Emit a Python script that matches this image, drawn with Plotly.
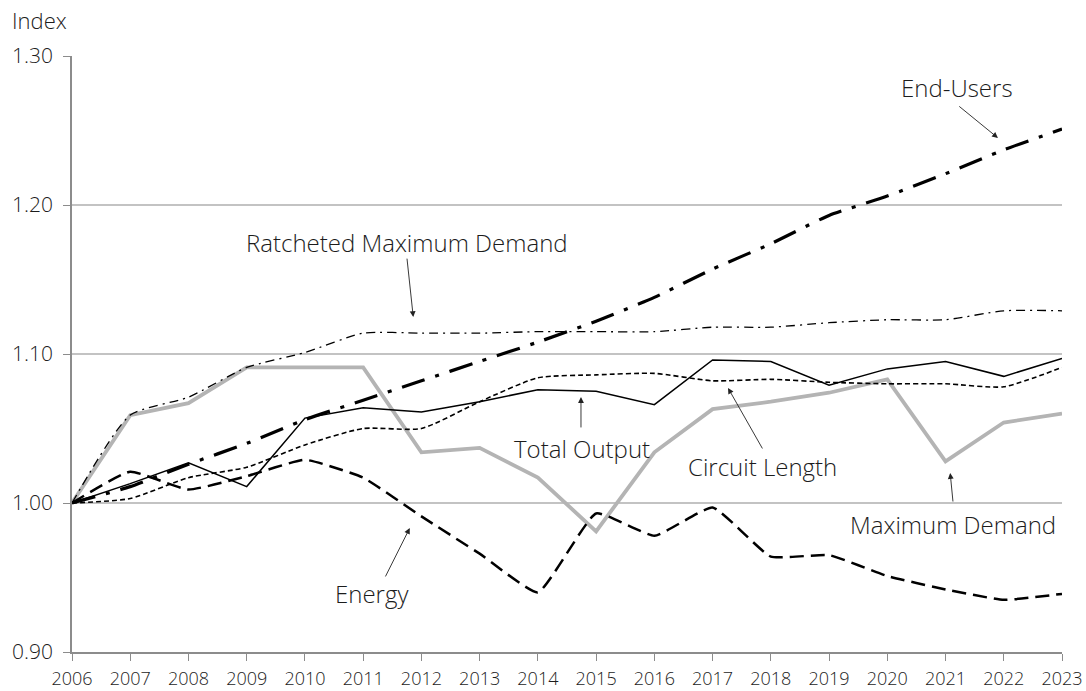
import plotly.graph_objects as go

years = list(range(2006, 2024))

end_users = [1.000, 1.011, 1.026, 1.040, 1.056, 1.069, 1.082, 1.095, 1.108, 1.122, 1.138, 1.157, 1.174, 1.193, 1.206, 1.221, 1.237, 1.251]
ratcheted_md = [1.000, 1.059, 1.071, 1.091, 1.101, 1.114, 1.114, 1.114, 1.115, 1.115, 1.115, 1.118, 1.118, 1.121, 1.123, 1.123, 1.129, 1.129]
maximum_demand = [1.000, 1.059, 1.067, 1.091, 1.091, 1.091, 1.034, 1.037, 1.017, 0.981, 1.034, 1.063, 1.068, 1.074, 1.083, 1.028, 1.054, 1.060]
total_output = [1.000, 1.013, 1.027, 1.011, 1.057, 1.064, 1.061, 1.068, 1.076, 1.075, 1.066, 1.096, 1.095, 1.079, 1.090, 1.095, 1.085, 1.097]
circuit_length = [1.000, 1.003, 1.017, 1.024, 1.039, 1.050, 1.050, 1.068, 1.084, 1.086, 1.087, 1.082, 1.083, 1.081, 1.080, 1.080, 1.078, 1.091]
energy = [1.000, 1.021, 1.009, 1.018, 1.029, 1.017, 0.991, 0.966, 0.940, 0.993, 0.978, 0.997, 0.964, 0.965, 0.951, 0.942, 0.935, 0.939]

y_ticks = [0.90, 1.00, 1.10, 1.20, 1.30]

FONT = "Open Sans"
TXT = "#1c1c1c"

fig = go.Figure()

fig.add_trace(go.Scatter(x=years, y=maximum_demand, mode="lines", name="Maximum Demand",
                         line=dict(color="#b4b4b4", width=3.8)))
fig.add_trace(go.Scatter(x=years, y=ratcheted_md, mode="lines", name="Ratcheted Maximum Demand",
                         line=dict(color="black", width=1.3, dash="9px,5px,2px,5px", shape="spline", smoothing=0.6)))
fig.add_trace(go.Scatter(x=years, y=end_users, mode="lines", name="End-Users",
                         line=dict(color="black", width=3.2, dash="24px,11px,4px,11px", shape="spline", smoothing=0.5)))
fig.add_trace(go.Scatter(x=years, y=circuit_length, mode="lines", name="Circuit Length",
                         line=dict(color="black", width=1.6, dash="5px,3px", shape="spline", smoothing=0.6)))
fig.add_trace(go.Scatter(x=years, y=total_output, mode="lines", name="Total Output",
                         line=dict(color="black", width=1.5)))
fig.add_trace(go.Scatter(x=years, y=energy, mode="lines", name="Energy",
                         line=dict(color="black", width=2.5, dash="14px,7px", shape="spline", smoothing=0.4)))

labels = [
    # text, text x, text y, head x, head y, tail x, tail y
    ("End-Users", 2021.20, 1.279, 2021.90, 1.245, 2021.21, 1.267),
    ("Ratcheted Maximum Demand", 2011.75, 1.1745, 2011.86, 1.1248, 2011.75, 1.165),
    ("Total Output", 2014.76, 1.0369, 2014.74, 1.0711, 2014.74, 1.0497),
    ("Circuit Length", 2017.85, 1.0242, 2017.265, 1.0772, 2017.87, 1.0356),
    ("Maximum Demand", 2021.13, 0.9859, 2021.08, 1.0201, 2021.13, 1.000),
    ("Energy", 2011.15, 0.9396, 2011.80, 0.9832, 2011.37, 0.9497),
]
for t, tx, ty, hx, hy, sx, sy in labels:
    fig.add_annotation(x=tx, y=ty, xref="x", yref="y", text=t, showarrow=False,
                       font=dict(family=FONT, size=24, color=TXT, weight=300))
    fig.add_annotation(x=hx, y=hy, ax=sx, ay=sy, xref="x", yref="y", axref="x", ayref="y",
                       text="", showarrow=True, arrowhead=2, arrowsize=1.3, arrowwidth=0.9,
                       arrowcolor="#222222")

fig.add_annotation(x=-0.0626, y=1.0604, xref="paper", yref="paper", text="Index", showarrow=False,
                   xanchor="left", yanchor="middle", font=dict(family=FONT, size=22, color=TXT, weight=300))

fig.update_layout(
    width=1086, height=691,
    margin=dict(l=72, r=24, t=56, b=39),
    paper_bgcolor="white", plot_bgcolor="white",
    showlegend=False,
    font=dict(family=FONT, color=TXT),
)
fig.update_xaxes(range=[2006, 2023], tickmode="array", tickvals=years, ticktext=[str(y) for y in years],
                 showgrid=False, zeroline=False, showline=True, linecolor="#8c8c8c", linewidth=1.5,
                 ticks="outside", ticklen=7, tickcolor="#8c8c8c", tickwidth=1.2, automargin=False,
                 ticklabelstandoff=3,
                 tickfont=dict(family=FONT, size=18, color=TXT, weight=300))
fig.update_yaxes(range=[0.90, 1.30], tickmode="array", tickvals=y_ticks, ticktext=[f"{v:.2f}" for v in y_ticks],
                 showgrid=True, gridcolor="#c3c3c3", gridwidth=1.8, zeroline=False,
                 showline=True, linecolor="#8c8c8c", linewidth=1.5,
                 ticks="outside", ticklen=7, tickcolor="#8c8c8c", tickwidth=1.2, automargin=False,
                 ticklabelstandoff=6,
                 tickfont=dict(family=FONT, size=21, color=TXT, weight=300))

# remove the default 8px page margin so the 1086x691 figure fills the window exactly
fig.write_html("out.html", config={"displayModeBar": False},
               post_script="document.body.style.margin='0px';document.body.style.overflow='hidden';")
